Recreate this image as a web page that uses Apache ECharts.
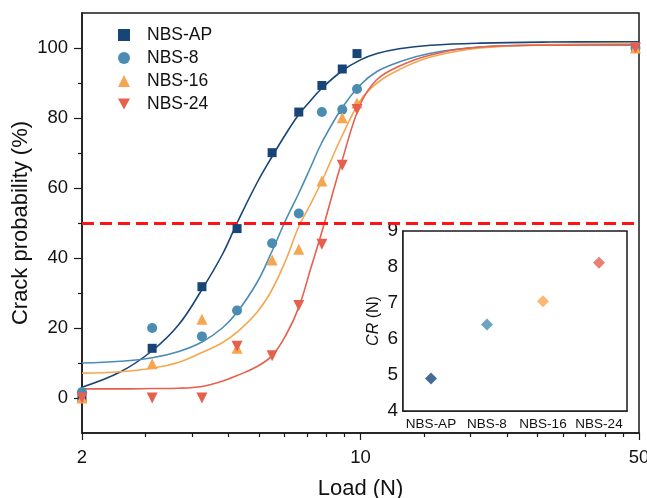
<!DOCTYPE html>
<html>
<head>
<meta charset="utf-8">
<script src="https://cdn.jsdelivr.net/npm/echarts@6/dist/echarts.min.js"></script>
<style>
  html, body { margin: 0; padding: 0; background: #fff; }
  #chart { width: 647px; height: 498px; }
</style>
</head>
<body>
<div id="chart"></div>
<script>
// Measured crack probability (%) at each indentation load (N)
const loads = [2, 3, 4, 4.9, 6, 7, 8, 9, 9.8, 49];
const probAP = [0, 14.2, 31.8, 48.4, 70.1, 81.7, 89.3, 94.0, 98.4, 100];
const prob8 = [1.7, 20.0, 17.6, 25.0, 44.2, 52.7, 81.7, 82.4, 88.3, 100];
const prob16 = [0, 9.8, 22.5, 14.2, 39.4, 42.5, 62.0, 80.1, 84.3, 100];
const prob24 = [0, 0, 0, 14.8, 12.1, 26.4, 43.9, 66.5, 82.4, 100];

// Fitted sigmoid curves, sampled at these loads
const fitLoads = [2, 2.5, 3, 3.5, 4, 4.5, 4.9, 5.5, 6, 6.5, 7, 7.5, 8, 9, 10, 11, 12.5, 15, 20, 30, 50];
const fitAP = [3.1, 7.5, 13.5, 21, 31, 41, 50, 61.5, 69, 75.5, 81, 85, 88.5, 93.5, 96.6, 98.4, 99.8, 100.8, 101.4, 101.7, 101.8];
const fit8 = [10.0, 10.5, 11.5, 13.3, 16, 20, 24.5, 33, 42, 51, 58.5, 66, 73, 83, 89.5, 93.3, 96, 98.5, 100.3, 100.8, 100.9];
const fit16 = [7.1, 7.5, 8.5, 10.2, 13, 15.8, 18.8, 24.5, 31, 39.5, 49, 55.5, 62, 75, 85, 90, 93.8, 97.4, 100, 101, 101.2];
const fit24 = [2.6, 2.6, 2.7, 2.8, 3.3, 4.8, 6.4, 9, 12.1, 18, 25.9, 37, 47.5, 68, 84, 91, 94.8, 98, 100.3, 100.8, 100.9];

// Critical load (50 % crack probability) per sample
const crCats = ['NBS-AP', 'NBS-8', 'NBS-16', 'NBS-24'];
const crValues = [4.9, 6.4, 7.05, 8.12];

// Axis ticks
const xMajorTicks = [2, 10, 50];
const xMinorTicks = [];
[[2, 10], [10, 50]].forEach(([a, b]) => {
  for (let k = 1; k < 9; k++) xMinorTicks.push(a + (b - a) * k / 9);
});
const yMajorTicks = [0, 20, 40, 60, 80, 100];
const yMinorTicks = [10, 30, 50, 70, 90];
const thresholdProb = 50;

const names = ['NBS-AP', 'NBS-8', 'NBS-16', 'NBS-24'];
const colors = ['#184578', '#4a8cb2', '#f7a650', '#e5604d'];
const symbols = ['rect', 'circle', 'triangle', 'triangle'];
const symbolSizes = [9, 10, 11, 11];
const rotations = [0, 0, 0, 180];
const legendIcons = ['rect', 'circle', 'triangle', 'path://M0,0 L10,0 L5,9 Z'];
const measured = [probAP, prob8, prob16, prob24];
const fits = [fitAP, fit8, fit16, fit24];

const FONT = 'Liberation Sans, Arial, sans-serif';
const AXIS_COLOR = '#1a1a1a';

const pair = (xs, ys) => xs.map((x, i) => [x, ys[i]]);

const series = [];
fits.forEach((f, i) => {
  const s = {
    name: names[i] + ' fit',
    type: 'line',
    xAxisIndex: 0, yAxisIndex: 0,
    data: pair(fitLoads, f),
    smooth: 0.4,
    showSymbol: false,
    silent: true,
    lineStyle: { color: colors[i], width: 1.6 },
    z: 2
  };
  if (i === 0) {
    s.markLine = {
      silent: true,
      symbol: 'none',
      label: { show: false },
      lineStyle: { color: '#ff1414', width: 3, type: [12, 6] },
      data: [{ yAxis: thresholdProb }],
      z: 3
    };
  }
  series.push(s);
});
measured.forEach((m, i) => {
  series.push({
    name: names[i],
    type: 'scatter',
    xAxisIndex: 0, yAxisIndex: 0,
    data: pair(loads, m),
    symbol: symbols[i],
    symbolSize: symbolSizes[i],
    symbolRotate: rotations[i],
    itemStyle: { color: colors[i], opacity: 1 },
    z: 4
  });
});
series.push({
  type: 'scatter',
  xAxisIndex: 2, yAxisIndex: 2,
  data: crValues.map((v, i) => ({ value: v, itemStyle: { color: colors[i] } })),
  symbol: 'diamond',
  symbolSize: 12,
  z: 6
});

const option = {
  animation: false,
  backgroundColor: '#fff',
  textStyle: { fontFamily: FONT },
  legend: {
    data: names.map((n, i) => ({ name: n, icon: legendIcons[i] })),
    orient: 'vertical',
    left: 113,
    top: 21,
    itemWidth: 12,
    itemHeight: 12,
    itemGap: 5,
    symbolKeepAspect: true,
    textStyle: { fontSize: 17.5, color: '#111', fontFamily: FONT, padding: [0, 0, 0, 12] },
    selectedMode: false
  },
  grid: [
    { left: 82, right: 8, top: 13, bottom: 65, outerBoundsMode: 'none', containLabel: false, show: true, borderColor: AXIS_COLOR, borderWidth: 1.5, backgroundColor: 'transparent' },
    { left: 403, top: 231, width: 224, height: 180, outerBoundsMode: 'none', containLabel: false, show: true, borderColor: AXIS_COLOR, borderWidth: 1.5, backgroundColor: '#fff', z: 5 }
  ],
  xAxis: [
    {
      type: 'log', logBase: 10, gridIndex: 0, min: 2, max: 50, position: 'bottom',
      axisLine: { show: true, onZero: false, lineStyle: { color: AXIS_COLOR, width: 1.5 } },
      axisTick: { show: true, length: 7, customValues: xMajorTicks, lineStyle: { color: AXIS_COLOR, width: 1.2 } },
      axisLabel: { customValues: xMajorTicks, fontSize: 18.5, color: '#111', margin: 15 },
      splitLine: { show: false },
      minorTick: { show: false },
      name: 'Load (N)', nameLocation: 'middle', nameGap: 45,
      nameTextStyle: { fontSize: 22, color: '#111' }
    },
    {
      type: 'log', logBase: 10, gridIndex: 0, min: 2, max: 50, position: 'bottom',
      axisLine: { show: false, onZero: false },
      axisTick: { show: true, length: 4, customValues: xMinorTicks, lineStyle: { color: AXIS_COLOR, width: 1.2 } },
      axisLabel: { show: false },
      splitLine: { show: false }
    },
    {
      type: 'category', gridIndex: 1, data: crCats, boundaryGap: true, position: 'bottom',
      axisLine: { onZero: false, lineStyle: { color: AXIS_COLOR, width: 1.5 } },
      axisTick: { show: false },
      axisLabel: { fontSize: 13.5, color: '#111', margin: 6, interval: 0 },
      splitLine: { show: false }
    }
  ],
  yAxis: [
    {
      type: 'value', gridIndex: 0, min: -10, max: 110, position: 'left',
      axisLine: { show: true, onZero: false, lineStyle: { color: AXIS_COLOR, width: 1.5 } },
      axisTick: { show: true, length: 8, customValues: yMajorTicks, lineStyle: { color: AXIS_COLOR, width: 1.2 } },
      axisLabel: { customValues: yMajorTicks, fontSize: 18.5, color: '#111', margin: 14 },
      splitLine: { show: false },
      name: 'Crack probability (%)', nameLocation: 'middle', nameGap: 50, nameMoveOverlap: false,
      nameTextStyle: { fontSize: 22, color: '#111' }
    },
    {
      type: 'value', gridIndex: 0, min: -10, max: 110, position: 'left',
      axisLine: { show: false, onZero: false },
      axisTick: { show: true, length: 4, customValues: yMinorTicks, lineStyle: { color: AXIS_COLOR, width: 1.2 } },
      axisLabel: { show: false },
      splitLine: { show: false }
    },
    {
      type: 'value', gridIndex: 1, min: 4, max: 9, interval: 1, position: 'left',
      axisLine: { show: true, onZero: false, lineStyle: { color: AXIS_COLOR, width: 1.5 } },
      axisTick: { show: true, inside: true, length: 4, lineStyle: { color: AXIS_COLOR } },
      minorTick: { show: true, splitNumber: 2, length: 2.5, lineStyle: { color: AXIS_COLOR } },
      axisLabel: { fontSize: 19, color: '#111', margin: 5 },
      splitLine: { show: false },
      name: '{i|CR} (N)', nameLocation: 'middle', nameGap: 21,
      nameTextStyle: { fontSize: 16, color: '#111', rich: { i: { fontStyle: 'italic', fontSize: 16 } } }
    }
  ],
  series: series
};

const chart = echarts.init(document.getElementById('chart'), null, { renderer: 'canvas' });
chart.setOption(option);
</script>
</body>
</html>
